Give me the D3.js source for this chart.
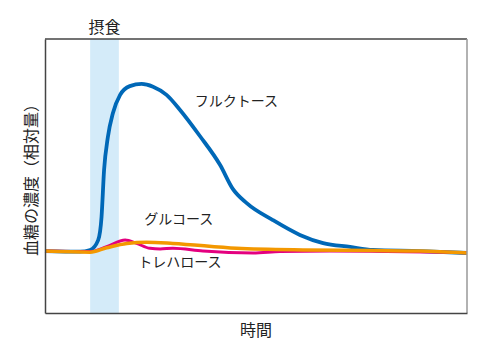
<!DOCTYPE html>
<html>
<head>
<meta charset="utf-8">
<script src="https://cdn.jsdelivr.net/npm/d3@7"></script>
<style>
  body { margin: 0; background: #fff; }
  text { font-family: "Noto Sans CJK JP", "Noto Sans", sans-serif; fill: #222; }
</style>
</head>
<body>
<div id="chart"></div>
<script>
// time (0-100) and relative concentration (0-100)
const fructoseT = [0, 8.3, 10.7, 12.6, 13.4, 14, 14.9, 16.1, 17.8, 20.1, 22.9, 25.6, 28.8, 32, 36.7, 41.5, 44.5, 47.8, 54, 60.4, 65.9, 72.3, 77.7, 88.9, 100];
const fructoseV = [22.6, 22.4, 23, 26.6, 35.1, 52.2, 64.2, 73, 79.6, 82.8, 83.6, 82.6, 79.6, 74.1, 64.6, 54, 45.3, 40.1, 33.9, 28.5, 25.5, 24.1, 23, 22.6, 21.9];

const glucoseT = [0, 10.7, 14.6, 19.4, 24.1, 30.3, 45.4, 61.1, 77.7, 88.9, 100];
const glucoseV = [22.6, 22.2, 23.8, 25.4, 25.8, 25.4, 23.6, 23, 22.8, 22.6, 21.9];

const trehaloseT = [0, 10.7, 14.6, 19, 21.7, 24.9, 27.3, 30.3, 37.4, 49.3, 55.7, 67.5, 100];
const trehaloseV = [22.6, 22.4, 24.2, 26.6, 25.4, 23.6, 23.4, 23.6, 22.6, 21.9, 22.4, 22.6, 22];

const intake = [10.7, 17.5];

const labels = [
  { text: "フルクトース", t: 35.5, v: 75.5 },
  { text: "グルコース", t: 23.5, v: 32.5 },
  { text: "トレハロース", t: 22.1, v: 16.7 }
];

const width = 500, height = 354;
const margin = { top: 39, right: 33, bottom: 41, left: 45 };

const svg = d3.select("#chart").append("svg")
  .attr("width", width)
  .attr("height", height);

const x = d3.scaleLinear().domain([0, 100]).range([margin.left, width - margin.right]);
const y = d3.scaleLinear().domain([0, 100]).range([height - margin.bottom, margin.top]);

// intake band
svg.append("rect")
  .attr("x", x(intake[0]))
  .attr("y", y(100))
  .attr("width", x(intake[1]) - x(intake[0]))
  .attr("height", y(0) - y(100))
  .attr("fill", "#d4ebf9");

svg.append("text")
  .attr("x", (x(intake[0]) + x(intake[1])) / 2)
  .attr("y", 33)
  .attr("text-anchor", "middle")
  .style("font-size", "16px")
  .text("摂食");

// lines
const line = d3.line()
  .x(d => x(d[0]))
  .y(d => y(d[1]))
  .curve(d3.curveMonotoneX);

const series = [
  { t: fructoseT, v: fructoseV, color: "#0068b7", w: 3.8 },
  { t: trehaloseT, v: trehaloseV, color: "#e4007f", w: 3 },
  { t: glucoseT, v: glucoseV, color: "#f39800", w: 3.5 }
];

series.forEach(s => {
  svg.append("path")
    .datum(d3.zip(s.t, s.v))
    .attr("d", line)
    .attr("fill", "none")
    .attr("stroke", s.color)
    .attr("stroke-width", s.w)
    .attr("stroke-linejoin", "round");
});

// frame
svg.append("line")
  .attr("x1", x(0)).attr("x2", x(100))
  .attr("y1", y(100)).attr("y2", y(100))
  .attr("stroke", "#444").attr("stroke-width", 1.5);
svg.append("line")
  .attr("x1", x(100)).attr("x2", x(100))
  .attr("y1", y(100)).attr("y2", y(0))
  .attr("stroke", "#999").attr("stroke-width", 1.5);

svg.append("g")
  .attr("transform", `translate(0,${y(0)})`)
  .call(d3.axisBottom(x).ticks(0).tickSize(0).tickFormat(""))
  .call(g => g.select(".domain").attr("stroke", "#444").attr("stroke-width", 1.5));

svg.append("g")
  .attr("transform", `translate(${x(0)},0)`)
  .call(d3.axisLeft(y).ticks(0).tickSize(0).tickFormat(""))
  .call(g => g.select(".domain").attr("stroke", "#444").attr("stroke-width", 1.5));

// series labels
svg.selectAll(".series-label")
  .data(labels)
  .join("text")
  .attr("class", "series-label")
  .attr("x", d => x(d.t))
  .attr("y", d => y(d.v))
  .style("font-size", "14px")
  .text(d => d.text);

// axis titles
svg.append("text")
  .attr("x", (x(0) + x(100)) / 2)
  .attr("y", 336)
  .attr("text-anchor", "middle")
  .style("font-size", "16px")
  .text("時間");

svg.append("text")
  .attr("transform", `translate(37,${(y(0) + y(100)) / 2}) rotate(-90)`)
  .attr("text-anchor", "middle")
  .style("font-size", "16px")
  .text("血糖の濃度（相対量）");
</script>
</body>
</html>
